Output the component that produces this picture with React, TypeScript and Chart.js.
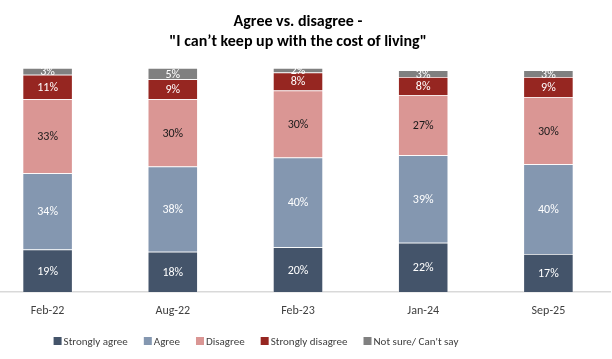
import React, { useEffect, useRef } from "react";
import { Chart, registerables } from "chart.js";

Chart.register(...registerables);

const categories = ["Feb-22", "Aug-22", "Feb-23", "Jan-24", "Sep-25"];
const stronglyAgree = [19, 18, 20, 22, 17];
const agree = [34, 38, 40, 39, 40];
const disagree = [33, 30, 30, 27, 30];
const stronglyDisagree = [11, 9, 8, 8, 9];
const notSure = [3, 5, 2, 3, 3];
const seriesLabels = ["Strongly agree", "Agree", "Disagree", "Strongly disagree", "Not sure/ Can't say"];
const seriesColors = ["#44546a", "#8497b0", "#da9694", "#962621", "#808080"];
const valueLabelColors = ["#ffffff", "#ffffff", "#1a1a1a", "#ffffff", "#ffffff"];
const titleLines = ["Agree vs. disagree -", "\"I can\u2019t keep up with the cost of living\""];

const FONT = "Carlito, Calibri, Lato, 'Noto Sans', sans-serif";

const segLabels = {
  id: "segLabels",
  afterDatasetsDraw(chart: any) {
    const { ctx, chartArea } = chart;
    ctx.save();
    ctx.beginPath();
    ctx.rect(chartArea.left, chartArea.top, chartArea.right - chartArea.left, chartArea.bottom - chartArea.top);
    ctx.clip();
    ctx.font = `12px ${FONT}`;
    ctx.textAlign = "center";
    ctx.textBaseline = "middle";
    chart.data.datasets.forEach((ds: any, di: number) => {
      const meta = chart.getDatasetMeta(di);
      meta.data.forEach((bar: any, i: number) => {
        const p = bar.getProps(["x", "y", "base"], true);
        ctx.fillStyle = valueLabelColors[di];
        ctx.fillText(`${ds.data[i]}%`, p.x, (p.y + p.base) / 2 + 1);
      });
    });
    ctx.restore();
  },
};

const customLegend = {
  id: "customLegend",
  afterDraw(chart: any) {
    const { ctx } = chart;
    ctx.save();
    ctx.font = `11px ${FONT}`;
    ctx.textBaseline = "middle";
    ctx.textAlign = "left";
    const box = 8;
    const gapText = 2;
    const gapItem = 16;
    const widths = chart.data.datasets.map((ds: any) => box + gapText + ctx.measureText(ds.label).width);
    const total = widths.reduce((a: number, b: number) => a + b, 0) + gapItem * (widths.length - 1);
    const centerX = 271;
    const y = 341;
    let x = centerX - total / 2;
    chart.data.datasets.forEach((ds: any, i: number) => {
      ctx.fillStyle = ds.backgroundColor;
      ctx.fillRect(x, y - box / 2, box, box);
      ctx.fillStyle = "#404040";
      ctx.fillText(ds.label, x + box + gapText, y + 1);
      x += widths[i] + gapItem;
    });
    ctx.restore();
  },
};

export default function App() {
  const ref = useRef<HTMLCanvasElement>(null);
  useEffect(() => {
    if (!ref.current) return;
    const seriesData = [stronglyAgree, agree, disagree, stronglyDisagree, notSure];
    const chart = new Chart(ref.current, {
      type: "bar",
      data: {
        labels: categories,
        datasets: seriesData.map((d, i) => ({
          label: seriesLabels[i],
          data: d,
          backgroundColor: seriesColors[i],
          borderColor: "rgba(255,255,255,0.5)",
          borderWidth: 0.75,
          barPercentage: 0.4,
          categoryPercentage: 1,
        })),
      },
      options: {
        responsive: false,
        animation: false,
        layout: { padding: 0 },
        plugins: {
          legend: { display: false },
          tooltip: { enabled: false },
          title: {
            display: true,
            text: titleLines,
            color: "#000000",
            font: { family: FONT, size: 16, weight: "bold", lineHeight: 1.25 },
            padding: { top: 12, bottom: 16 },
          },
        },
        scales: {
          x: {
            stacked: true,
            grid: { display: false, drawTicks: false },
            border: { display: true, color: "#d9d9d9", width: 1.5 },
            ticks: { color: "#404040", font: { family: FONT, size: 12 }, padding: 12 },
            afterFit: (scale: any) => {
              scale.height = 67;
            },
          },
          y: {
            stacked: true,
            display: false,
            min: 0,
            max: 100,
          },
        },
      },
      plugins: [segLabels, customLegend],
    });
    return () => chart.destroy();
  }, []);
  return (
    <div style={{ position: "fixed", left: -15, top: 0, width: 626, height: 359, background: "#fff" }}>
      <canvas ref={ref} width={626} height={359} style={{ display: "block", width: 626, height: 359 }} />
    </div>
  );
}
